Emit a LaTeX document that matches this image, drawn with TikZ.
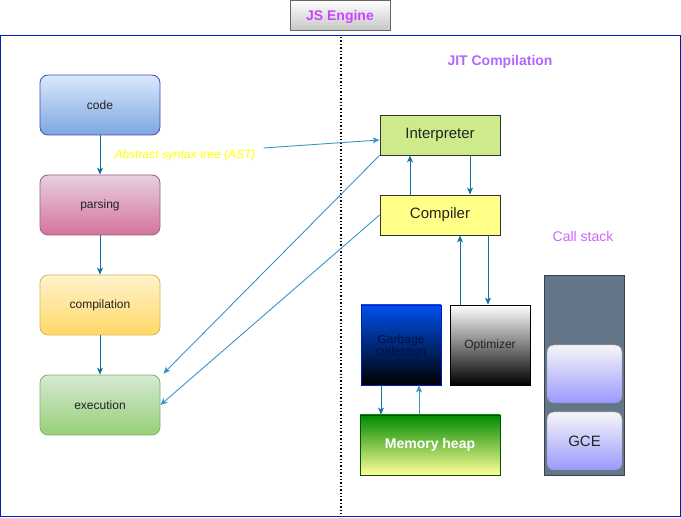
\documentclass[tikz,border=0pt]{standalone}
\usepackage{fontspec}
\setmainfont{Liberation Sans}
\usetikzlibrary{arrows.meta,positioning,calc}
\definecolor{framec}{HTML}{001DBC}
\definecolor{arrc}{HTML}{10739E}
\definecolor{arrlc}{HTML}{3A93C8}
\definecolor{titlec}{HTML}{CC44FF}
\definecolor{jitc}{HTML}{B266FF}
\definecolor{callc}{HTML}{CC66FF}
\definecolor{txtc}{HTML}{222222}
\tikzset{
  arr/.style={draw=arrc, line width=0.9pt, -{Stealth[length=7pt,width=6pt,inset=2pt]}},
  arrl/.style={draw=arrlc, line width=0.9pt, -{Stealth[length=7pt,width=6pt,inset=2pt]}},
  stepbox/.style={rounded corners=8pt, minimum width=120pt, minimum height=60pt, font=\fontsize{12}{14}\selectfont, text=txtc, line width=0.8pt},
  jitbox/.style={minimum width=120pt, minimum height=40pt, font=\fontsize{15}{17}\selectfont, text=txtc, draw=black!80, line width=0.9pt},
  sqbox/.style={minimum width=80pt, minimum height=80pt, font=\fontsize{12}{14}\selectfont, align=center, line width=0.9pt},
  stackbox/.style={rounded corners=7pt, minimum width=75pt, minimum height=58pt, draw=black!40, top color=white!93!gray, bottom color=blue!40!white, font=\fontsize{15}{17}\selectfont, text=txtc}
}
\begin{document}
\begin{tikzpicture}[x=1pt,y=-1pt]
\useasboundingbox (0,0) rectangle (681,518);
% outer frame
\draw[framec, line width=1pt] (0.5,35.5) rectangle (680,516.5);
% title
\node[draw=black!60, top color=white, bottom color=black!22, minimum width=100pt, minimum height=30pt, text=titlec, font=\bfseries\fontsize{14}{16}\selectfont, line width=0.8pt, text depth=0pt] (title) at (340,15) {JS Engine};
% divider
\draw[black, dotted, line width=1.4pt] (341,37) -- (341,516);
% left steps
\node[stepbox, draw=blue!45!gray, top color={rgb,255:red,218;green,232;blue,252}, bottom color={rgb,255:red,126;green,166;blue,224}] (code) at (100,105) {code};
\node[stepbox, draw={rgb,255:red,153;green,97;blue,133}, top color={rgb,255:red,230;green,208;blue,222}, bottom color={rgb,255:red,213;green,115;blue,157}] (parsing) at (100,205) {parsing};
\node[stepbox, draw={rgb,255:red,214;green,182;blue,86}, top color={rgb,255:red,255;green,242;blue,204}, bottom color={rgb,255:red,255;green,217;blue,102}] (compilation) at (100,305) {compilation};
\node[stepbox, draw={rgb,255:red,130;green,179;blue,102}, top color={rgb,255:red,213;green,232;blue,212}, bottom color={rgb,255:red,151;green,208;blue,119}] (execution) at (100,405) {execution};
\draw[arr] (code) -- (parsing);
\draw[arr] (parsing) -- (compilation);
\draw[arr] (compilation) -- (execution);
% AST label
\node[text={rgb,255:red,255;green,255;blue,0}, font=\itshape\fontsize{12}{14}\selectfont, inner sep=0pt] (ast) at (185,155) {Abstract syntax tree (AST)};
% JIT
\node[text=jitc, font=\bfseries\fontsize{14}{16}\selectfont] (jit) at (500,62) {JIT Compilation};
\node[jitbox, fill={rgb,255:red,205;green,235;blue,139}] (interp) at (440,135) {Interpreter};
\node[jitbox, fill={rgb,255:red,255;green,255;blue,136}] (comp) at (440,215) {Compiler};
\draw[arrl] ([xshift=8pt,yshift=7pt]ast.east) -- ([yshift=-5pt]interp.west);
\draw[arr] ([xshift=-30pt]comp.north) -- ([xshift=-30pt]interp.south);
\draw[arr] ([xshift=30pt]interp.south) -- ([xshift=30pt]comp.north);
\draw[arrl] (interp.south west) -- ([xshift=3pt,yshift=1pt]execution.north east);
\draw[arrl] (comp.west) -- (execution.east);
% lower JIT boxes
\node[sqbox, draw=framec, top color={rgb,255:red,0;green,80;blue,239}, bottom color=black, text={rgb,255:red,0;green,16;blue,64}] (gc) at (401,345) {Garbage\\[-2pt]collection};
\node[sqbox, draw=black, top color=white, bottom color=black, text=txtc] (opt) at (490,345) {Optimizer};
\node[minimum width=140pt, minimum height=60pt, draw={rgb,255:red,0;green,87;blue,0}, top color={rgb,255:red,0;green,138;blue,0}, bottom color={rgb,255:red,255;green,255;blue,153}, text=white, font=\bfseries\fontsize{14}{16}\selectfont, line width=0.9pt] (heap) at (430,445) {Memory heap};
\draw[arr] ([xshift=-30pt]opt.north) -- ([xshift=-30pt]opt.north |- comp.south);
\draw[arr] ([xshift=48pt]comp.south) -- ([xshift=48pt]comp.south |- opt.north);
\draw[arr] ([xshift=-20pt]gc.south) -- ([xshift=-20pt]gc.south |- heap.north);
\draw[arrl] ([xshift=18pt]gc.south |- heap.north) -- ([xshift=18pt]gc.south);
% call stack
\node[text=callc, font=\fontsize{14}{16}\selectfont] (calllbl) at (583,236) {Call stack};
\node[minimum width=80pt, minimum height=200pt, fill={rgb,255:red,100;green,118;blue,135}, draw={rgb,255:red,49;green,67;blue,84}, line width=0.9pt] (stack) at (584,375) {};
\node[stackbox] (frame1) at (584.5,374) {};
\node[stackbox] (gce) at (584.5,441) {GCE};
\end{tikzpicture}
\end{document}
